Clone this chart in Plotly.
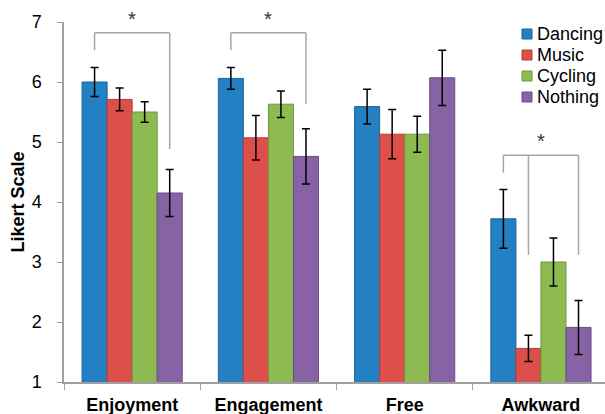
import plotly.graph_objects as go

# Survey responses per activity condition (mean Likert score and error)
categories = ["Enjoyment", "Engagement", "Free", "Awkward"]
series_names = ["Dancing", "Music", "Cycling", "Nothing"]

dancing = [6.00, 6.06, 5.59, 3.72]
music = [5.71, 5.07, 5.13, 1.56]
cycling = [5.50, 5.63, 5.13, 3.00]
nothing = [4.15, 4.76, 6.07, 1.91]

dancing_err = [0.24, 0.18, 0.29, 0.49]
music_err = [0.19, 0.37, 0.41, 0.22]
cycling_err = [0.17, 0.22, 0.30, 0.40]
nothing_err = [0.39, 0.46, 0.46, 0.45]

fill_colors = ["#2280C3", "#DD4F4B", "#8DBB51", "#8763A6"]
edge_colors = ["#1B6497", "#B63B38", "#6E963C", "#684C84"]

# Significance brackets: category, bar indices of the legs, top level, leg bottoms
brackets = [
    ("Enjoyment", [0, 3], 6.82, [6.53, 4.88]),
    ("Engagement", [0, 3], 6.82, [6.53, 5.63]),
    ("Awkward", [0, 1, 3], 4.78, [4.49, 3.12, 3.12]),
]

BARGAP = 0.265
n_series = len(series_names)
bar_w = (1 - BARGAP) / n_series


def bar_x(cat, k):
    return categories.index(cat) - (1 - BARGAP) / 2 + bar_w * (k + 0.5)


values = [dancing, music, cycling, nothing]
errors = [dancing_err, music_err, cycling_err, nothing_err]

FONT = "Liberation Sans, Arial"

fig = go.Figure()
for name, vals, errs, fc, ec in zip(series_names, values, errors, fill_colors, edge_colors):
    fig.add_trace(go.Bar(
        name=name, x=categories, y=vals, showlegend=False,
        marker=dict(color=fc, line=dict(color=ec, width=1)),
        error_y=dict(type="data", array=errs, visible=True,
                     color="black", thickness=1.5, width=4),
    ))

bracket_color = "#A6A6A6"
for cat, legs, top, bottoms in brackets:
    xs = [bar_x(cat, k) for k in legs]
    fig.add_shape(type="line", xref="x", yref="y", x0=xs[0], x1=xs[-1], y0=top, y1=top,
                  line=dict(color=bracket_color, width=1.5))
    for x, b in zip(xs, bottoms):
        fig.add_shape(type="line", xref="x", yref="y", x0=x, x1=x, y0=b, y1=top,
                      line=dict(color=bracket_color, width=1.5))
    fig.add_annotation(x=(xs[0] + xs[-1]) / 2, y=top, xref="x", yref="y", text="*",
                       showarrow=False, yanchor="bottom", yshift=1,
                       font=dict(family=FONT, size=20, color="#333333"))

# Compact legend: small swatches with labels, stacked in the upper right
PLOT_W, PLOT_H = 541, 360
leg_left_px, leg_top_px, row_h, sw = 522, 34, 21, 10
for i, (name, fc, ec) in enumerate(zip(series_names, fill_colors, edge_colors)):
    cy = leg_top_px + i * row_h
    x0 = (leg_left_px - 64) / PLOT_W
    x1 = (leg_left_px + sw - 64) / PLOT_W
    y0 = (382 - (cy + sw / 2)) / PLOT_H
    y1 = (382 - (cy - sw / 2)) / PLOT_H
    fig.add_shape(type="rect", xref="paper", yref="paper", x0=x0, x1=x1, y0=y0, y1=y1,
                  fillcolor=fc, line=dict(color=ec, width=1))
    fig.add_annotation(xref="paper", yref="paper", x=(leg_left_px + sw + 3 - 64) / PLOT_W,
                       y=(382 - cy) / PLOT_H, text=name, showarrow=False,
                       xanchor="left", yanchor="middle",
                       font=dict(family=FONT, size=18, color="black"))

axis_color = "#A0A0A0"
fig.update_layout(
    width=605, height=414,
    margin=dict(l=64, r=0, t=22, b=32),
    paper_bgcolor="white", plot_bgcolor="white",
    barmode="group", bargap=BARGAP, bargroupgap=0,
    font=dict(family=FONT, color="black"),
    showlegend=False,
    xaxis=dict(range=[-0.5, 3.47], showline=True, linecolor=axis_color, linewidth=1.5,
               ticks="outside", tickson="boundaries", ticklen=6, tickcolor=axis_color,
               ticklabelstandoff=6,
               tickfont=dict(size=18, family=FONT),
               tickprefix="<b>", ticksuffix="</b>", showgrid=False, zeroline=False),
    yaxis=dict(range=[1, 7], dtick=1, showline=True, linecolor=axis_color, linewidth=1.5,
               ticks="outside", ticklen=5, tickcolor=axis_color, ticklabelstandoff=12,
               tickfont=dict(size=18), showgrid=False, zeroline=False,
               title=dict(text="<b>Likert Scale</b>", font=dict(size=18), standoff=2)),
)

fig.write_html("out.html")
